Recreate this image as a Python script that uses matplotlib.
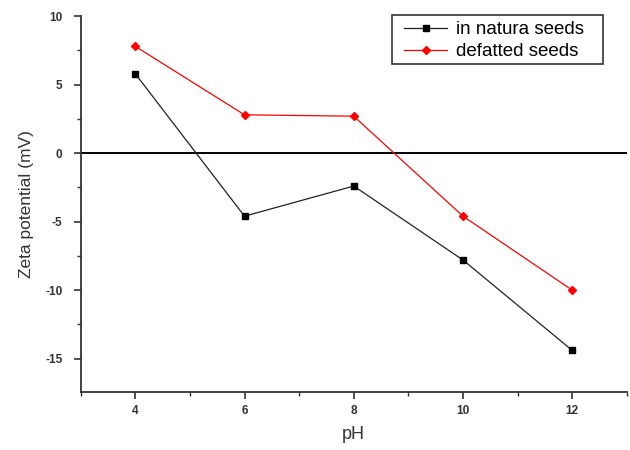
import matplotlib
matplotlib.use("Agg")
import matplotlib.pyplot as plt
from matplotlib.ticker import MultipleLocator
from matplotlib.patches import Rectangle

plt.rcParams['font.family'] = ['Liberation Sans', 'DejaVu Sans']
plt.rcParams['axes.unicode_minus'] = False

ph = [4, 6, 8, 10, 12]
natura = [5.8, -4.6, -2.4, -7.8, -14.4]
defatted = [7.8, 2.8, 2.7, -4.6, -10.0]

W, H = 630, 450
fig = plt.figure(figsize=(6.3, 4.5), dpi=100)
ax = fig.add_axes([0.128, 0.130, 0.867, 0.834])

ax.axhline(0, color='black', linewidth=1.4, zorder=1)
ax.plot(ph, natura, color='#222222', linewidth=0.9, marker='s', markersize=5,
        markerfacecolor='black', markeredgecolor='black', label='in natura seeds', zorder=3)
ax.plot(ph, defatted, color='red', linewidth=0.9, marker='D', markersize=4.5,
        markerfacecolor='red', markeredgecolor='red', label='defatted seeds', zorder=3)

ax.set_xlim(3, 13)
ax.set_ylim(-17.4, 10)
ax.xaxis.set_major_locator(MultipleLocator(2))
ax.xaxis.set_minor_locator(MultipleLocator(1))
ax.yaxis.set_major_locator(MultipleLocator(5))
ax.yaxis.set_minor_locator(MultipleLocator(2.5))

for s in ['top', 'right']:
    ax.spines[s].set_visible(False)
for s in ['left', 'bottom']:
    ax.spines[s].set_linewidth(1.3)
    ax.spines[s].set_color('#333333')

ax.tick_params(which='major', direction='out', length=5, width=1.2, labelsize=8.5,
               colors='#333333', pad=5)
ax.tick_params(which='minor', direction='out', length=3, width=1.0, colors='#333333')
ax.tick_params(axis='y', which='major', pad=8)
for lab in ax.get_xticklabels() + ax.get_yticklabels():
    lab.set_fontweight('bold')

ax.set_xlabel('pH', fontsize=13, color='#333333', labelpad=6)
ax.set_ylabel('Zeta potential (mV)', fontsize=12.5, color='#333333', labelpad=8)

# legend frame box
fig.patches.append(Rectangle((392 / W, 1 - 64 / H), 211 / W, 49 / H,
                             transform=fig.transFigure, fill=True, facecolor='white',
                             edgecolor='#333333', linewidth=1.2, zorder=5))
leg = fig.legend(*ax.get_legend_handles_labels(), loc='upper left',
                 bbox_to_anchor=(404 / W, 1 - 21 / H), borderaxespad=0, borderpad=0,
                 fontsize=13.5, frameon=False, handlelength=2.3,
                 labelspacing=0.28, handletextpad=0.45)
leg.set_zorder(6)

fig.savefig('out.png', dpi=100)
